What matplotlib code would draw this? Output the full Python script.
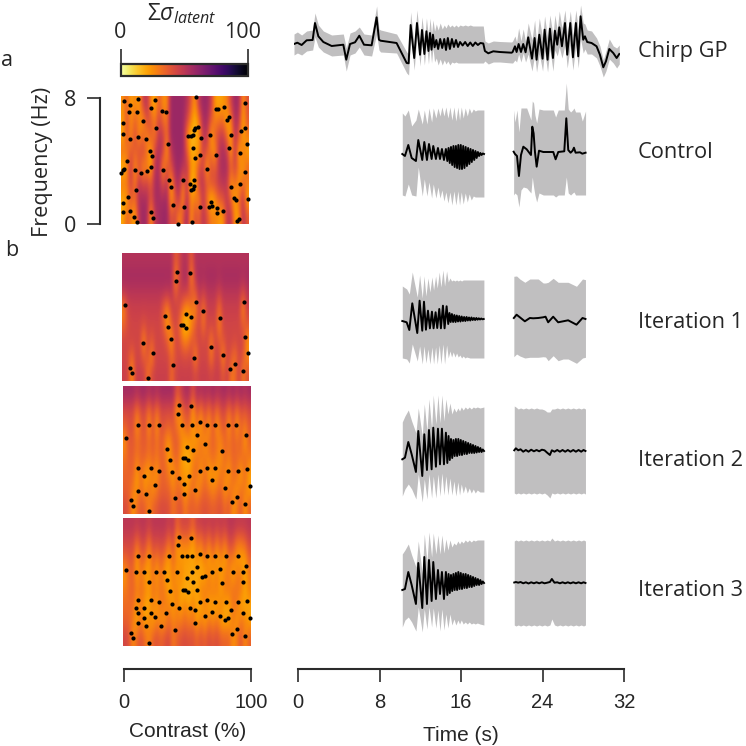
import numpy as np
import matplotlib
matplotlib.use('Agg')
import matplotlib.pyplot as plt
from matplotlib.cm import ScalarMappable
from matplotlib.colors import Normalize

SIZE = 746.0
BAND = '#c0bfc0'
DARK = '#2b2b2b'
TEXT = '#262626'

chirp_gp_t = [0, .33, .75, 1.24, 1.83, 2.06, 2.39, 2.88, 3.7, 4.84, 5.13, 5.5, 5.99, 6.41, 6.87, 7.62, 8.11, 8.34, 8.5, 10.07,
              11.06, 11.25, 11.45, 11.8, 12.07, 12.37, 12.56, 12.8, 13.0, 13.2, 13.35, 13.5, 13.64, 13.8,
              13.97, 14.15, 14.35, 14.55, 14.75, 14.92, 15.1, 15.3, 15.5, 15.7, 15.9, 16.1, 16.3, 16.55, 16.8, 17.05, 17.3, 17.55, 17.8, 18.05, 18.3, 18.58,
              18.74, 19.07, 19.56, 20.2, 21.36, 21.46,
              21.69, 21.85, 22.05, 22.28, 22.5, 22.73, 22.99, 23.36, 23.62, 23.81, 24.08, 24.4, 24.6, 24.89, 25.12, 25.42, 25.61, 25.84, 26.04, 26.3,
              26.6, 26.82, 27.12, 27.38, 27.67, 27.9, 28.13, 28.39, 28.56, 28.78, 29.21, 29.7, 30.03, 30.36, 30.62, 30.95, 31.34, 31.67, 31.93]
chirp_gp_mean = [0, 1.3, -1, 3.7, 4, 21, 7.7, 2, -2, -.7, -15.7, 0, 1.7, 8.3, -.7, -1.3, 26.7, 4.3, 3.3, 1,
                 -19, -19.3, 19, -14, 21, -10.7, 14, -10, 12.7, -7, 11, -5.7, 9.3, -3.3,
                 4, -5, 5, -4, 5, -6, 6, -5, 5, -3, 4, -3, 2, -1.5, 2, -2, 1.5, -2, 1.5, -1, 1, .5,
                 -7, -9.3, -7.3, -8, -8.7, -8,
                 -2.3, -8, 0, -8, 0, -8.3, 6.7, -14.7, 6, -15.7, 9.3, -14.7, 14.3, -15.7, 15.3, -14, 13.3, -.7, 16.7, -2.3,
                 21, -10.7, 21, -13.3, 21, -12.3, 27.7, 4.3, 7.7, 2, 1, -2.3, -10.7, -23.3, -17.3, -5, -9, -14, -10]
chirp_gp_hi = [10, 12, 9, 13, 14, 31, 19, 13, 9, 10, -4, 11, 13, 17, 10, 9, 38, 15, 14, 10,
               -8, -10, 32, -2, 34, 2, 27, 4, 26, 7, 26, 10, 24, 13,
               20, 14, 21, 15, 19, 16, 20, 17, 19, 17, 19, 17, 19, 18, 19, 18, 19, 18, 18, 18, 18, 18,
               3, 1, 3, 2.5, 2, 3,
               8, 2, 16, 3, 15, 2, 21, 4, 24, 1, 26, 6, 28, 6, 29, 9, 29, 14, 33, 16,
               34, 9, 33, 9, 34, 14, 39, 21, 20, 14, 13, 6, -2, -16, -7, 5, -2, -4, -1]
chirp_gp_lo = [-11, -9, -11, -7, -6, 7, -3, -8, -12, -11, -27, -11, -9, -3, -11, -12, 10, -6, -8, -9,
               -29, -31, 8, -26, 10, -22, 2, -21, 0, -20, -2, -19, -4, -18,
               -14, -21, -15, -21, -16, -20, -17, -21, -18, -19, -18, -19, -19, -19, -19, -19, -19, -19, -19, -19, -19, -19,
               -17, -20, -18, -18, -19, -19,
               -16, -18, -10, -18, -9, -18, -10, -27, -11, -28, -10, -27, -7, -28, -5, -27, -6, -12, -3, -14,
               -1, -24, -1, -26, 0, -24, 5, -9, -5, -10, -10, -14, -22, -33, -27, -15, -19, -24, -20]

# chirp window shared by control, iteration 2 and iteration 3
chirp_t = [10.63, 10.89, 11.22, 11.55, 11.97, 12.2, 12.59, 12.79, 13.05, 13.25, 13.51, 13.67, 13.93, 14.13, 14.33, 14.52, 14.72, 14.91,
           15.11, 15.31, 15.5, 15.7, 15.89, 16.09, 16.25, 16.42, 16.61, 16.81, 17.01, 17.2, 17.4, 17.6, 17.79, 17.99, 18.25, 18.64]
chirp_mean_t = [10.63, 10.89, 11.22, 11.55, 11.97, 12.2, 12.59, 12.79, 13.05, 13.25, 13.51, 13.67, 13.93, 14.13, 14.33, 14.52, 14.72, 14.91,
                15.05, 15.17, 15.29, 15.41, 15.53, 15.65, 15.77, 15.89, 16.01, 16.13, 16.25, 16.37, 16.49, 16.61, 16.73, 16.85, 16.97,
                17.09, 17.21, 17.33, 17.45, 17.57, 17.69, 17.81, 17.93, 18.05, 18.17, 18.29, 18.41, 18.53, 18.65]
control_mean = [0, -2, 9, -4, -7, 14, -6, 12, -6, 10, -5, 8, -5, 6, -5, 5, -6, 5,
                -7, 6, -9, 7, -11, 8, -13, 8, -14, 9, -15, 9, -15, 8, -14, 7, -12, 6, -10, 5, -8, 4, -6, 3, -4, 2, -2, 1, -1, .5, 0]
control_hi = [41, 38, 44, 28, 34, 45, 30, 44, 30, 46, 32, 46, 36, 46, 38, 47, 38, 47, 36, 47, 34, 47, 33, 47, 34, 47, 36, 46, 38, 46, 41, 45, 43, 44, 44, 44]
control_lo = [-41, -42, -30, -41, -42, -13, -42, -25, -42, -28, -44, -30, -44, -33, -44, -36, -47, -38, -49, -38, -51, -37, -51, -37, -51, -38, -50, -39, -48, -40, -46, -42, -43, -43, -43, -43]

control_pulse_t = [21.56, 21.69, 21.89, 22.08, 22.28, 22.51, 22.84, 23.26, 23.39, 23.52, 23.65, 23.82, 24.05, 24.47, 25.45, 25.68, 25.94, 26.53, 26.73, 26.92, 27.15, 27.35, 27.48, 27.64, 28.07, 28.3, 28.62]
control_pulse_mean = [2.3, 0, -2, -22, -1, 7.3, 4.7, -1, 27.3, 20.7, 2.3, -12.7, 3.3, 2, 2, -5.3, 2, 2.7, 35.7, 4, 1.3, 3.3, 6.3, 1.3, 1.7, .3, 1.3]
control_pulse_hi = [44, 32, 44, 22, 46, 46, 46, 34, 53, 51, 39, 31, 45, 44, 44, 37, 44, 44, 71, 45, 42, 44, 46, 42, 42, 33, 43]
control_pulse_lo = [-41, -39, -41, -53, -36, -33, -34, -39, -23, -33, -41, -48, -39, -41, -41, -43, -41, -41, -23, -39, -41, -39, -38, -41, -41, -41, -41]

iter1_t = [10.63, 11.06, 11.32, 11.61, 12.1, 12.33, 12.59, 12.76, 12.95, 13.15, 13.34, 13.54, 13.7, 13.9, 14.06, 14.26, 14.42, 14.62,
           14.78, 14.98, 15.14, 15.31, 15.47, 15.63, 15.8, 15.96, 16.12, 16.29, 16.45, 16.61, 16.78, 16.94, 17.27, 17.6, 18.09, 18.64]
iter1_mean_t = [10.63, 11.06, 11.32, 11.61, 12.1, 12.33, 12.59, 12.76, 12.95, 13.15, 13.34, 13.54, 13.7, 13.9, 14.06, 14.26, 14.42, 14.62, 14.78, 14.98, 15.14,
                15.26, 15.38, 15.5, 15.62, 15.74, 15.86, 15.98, 16.1, 16.22, 16.34, 16.46, 16.58, 16.7, 16.82, 16.94,
                17.06, 17.18, 17.3, 17.42, 17.54, 17.66, 17.78, 17.9, 18.02, 18.14, 18.26, 18.38, 18.5, 18.62]
iter1_mean = [-2, -3.3, -11, 15.7, -14, 18.3, -11.7, 17.3, -10.7, 8.3, -9.3, 7.3, -9.3, 6.7, -9, 10, -9.3, 13.3, -9.3, 12.7, -5,
              6, -3, 5, -3, 4, -3, 3.5, -2.5, 3, -2.5, 2.5, -2, 2, -2, 2, -1.5, 1.5, -1.5, 1.5, -1, 1, -1, 1, -.7, .7, -.5, .5, -.3, 0]
iter1_hi = [33, 30, 25, 47, 22, 44, 21, 43, 23, 41, 27, 42, 29, 43, 31, 47, 32, 49, 33, 48, 37, 41, 38, 39, 38, 39, 38, 39, 38, 39, 39, 39, 39, 39, 39, 39]
iter1_lo = [-39, -40, -44, -25, -42, -27, -45, -27, -44, -30, -45, -28, -45, -28, -45, -26, -45, -25, -45, -26, -39, -32, -38, -33, -38, -34, -38, -36, -39, -37, -39, -38, -39, -39, -39, -39]

iter1_pulse_t = [21.58, 21.85, 22.17, 22.66, 23.15, 23.48, 23.97, 24.46, 24.69, 24.95, 25.44, 25.93, 26.42, 26.91, 27.73, 28.32, 28.61]
iter1_pulse_mean = [1, 4.3, 1.7, -2.3, 1, .7, 1, 1.7, 2.3, -3.3, 2.3, -3.3, -2.3, -1.3, -5.7, 1, 0]
iter1_pulse_hi = [42.7, 43, 40, 36.7, 40, 40, 40, 36, 36, 36.7, 40.7, 36.7, 36.7, 36.7, 32.7, 40, 39.3]
iter1_pulse_lo = [-37.7, -35, -37, -39, -38.3, -38.3, -38.3, -37.7, -38, -41.7, -36.7, -41.7, -40, -40, -44.3, -39, -38.3]

iter2_mean = [-8.3, -6.7, 9, -3.3, -21, 20, -25, 16.7, -19, 21, -18.3, 23.3, -15.7, 22.3, -13.3, 22.3, -13.3, 18.3,
              -12, 15, -9, 12, -7, 11, -5, 12, -5, 12, -4, 11, -4, 10, -3, 9, -3, 8, -2, 7, -2, 6, -2, 5, -1.5, 4, -1, 3, -1, 1.5, 0]
iter2_hi = [29, 35, 41, 30, 18, 43, 15, 47, 20, 52, 22, 56, 27, 56, 28, 56, 30, 52, 37, 48, 37, 43, 39, 43, 40, 44, 41, 44, 42, 44, 42, 44, 43, 44, 43, 44]
iter2_lo = [-45, -38, -33, -38, -48, -23, -51, -28, -48, -23, -47, -25, -47, -23, -45, -22, -44, -25, -44, -27, -44, -30, -45, -31, -44, -33, -42, -35, -42, -37, -42, -38, -42, -39, -41, -41]

iter3_mean = [-7, -6, 11, -2, -21, 20, -25, 26, -21, 23, -18, 21, -16, 13, -11, 11, -16, 11,
              -12, 9, -10, 8, -8, 9, -7, 10, -7, 11, -6, 10, -6, 9, -5, 9, -5, 8, -4, 7, -4, 6, -3, 5, -2, 4, -2, 3, -1, 1.5, 0]
iter3_hi = [29, 33, 39, 28, 16, 42, 9, 49, 21, 51, 26, 50, 29, 48, 29, 48, 30, 44, 33, 43, 36, 40, 38, 42, 39, 42, 40, 43, 41, 43, 41, 43, 42, 43, 43, 43]
iter3_lo = [-44, -37, -34, -39, -48, -24, -49, -26, -46, -24, -44, -25, -45, -27, -48, -26, -47, -31, -45, -31, -42, -36, -42, -37, -41, -37, -41, -39, -41, -39, -41, -40, -41, -40, -41, -42]

# pulse window shared by iteration 2 and iteration 3
pulse_t = [21.62, 21.78, 22.01, 22.24, 22.5, 22.76, 23.02, 23.28, 23.55, 23.81, 24.07, 24.33, 24.59, 24.85, 25.12, 25.31, 25.57, 25.84, 26.1, 26.36, 26.62, 26.88, 27.14, 27.41, 27.67, 27.93, 28.19, 28.42, 28.61]
iter2_pulse_mean = [.7, 2.7, .7, 1.7, -.7, 1, -.7, 1.3, -.3, 1, -.3, 1.3, .7, -1.7, -4, .7, -.7, 1, -.7, 1, -.7, 1, -.7, 1, -.7, 1, -.7, 1, 0]
iter2_pulse_hi = [45, 44, 42, 43, 42, 43, 42, 43, 42, 43, 42, 42, 41, 39, 39, 42, 42, 43, 42, 43, 42, 43, 42, 43, 42, 43, 42, 43, 42]
iter2_pulse_lo = [-42, -43, -42, -43, -42, -43, -42, -43, -42, -43, -42, -43, -42, -44, -47, -42, -43, -42, -43, -42, -43, -42, -43, -42, -43, -42, -43, -42, -43]
iter3_pulse_mean = [.5, 1, .3, 1, -.3, .7, -.5, .7, -.3, .7, -.3, .7, -.3, .3, 1, 4, .3, .7, -.3, .7, -.3, .7, -.3, .7, -.3, .7, -.3, .7, 0]
iter3_pulse_hi = [42, 43, 42, 43, 42, 43, 42, 43, 42, 43, 42, 43, 42, 43, 42, 45, 42, 43, 42, 43, 42, 43, 42, 43, 42, 43, 42, 43, 42]
iter3_pulse_lo = [-42, -43, -42, -43, -42, -43, -42, -43, -42, -43, -42, -43, -42, -43, -42, -36, -42, -43, -42, -43, -42, -43, -42, -43, -42, -43, -42, -43, -42]

# ---- sampled stimuli: contrast (%) and frequency (Hz)
control_c = [2.6, 6.8, 13.6, 26.4, 6.5, 12.3, 23.8, 31.8, 35.5, 1.6, 17.2, 1.6, 6.8, 13.6, 19.6, 27.7, 22.4, 24.5, 36.8, 4.4, 23.2, 20.1, 11.2, 15.7, 1.6, 2.6, 0, 32.6, 37.8, 38.9,
             12, 5.7, 1.8, 1.8, 7.3, 10.4, 12.3, 23.5, 25, 40.7, 49.3, 48.5, 44.9, 55.3, 53.8, 57.4, 54.8, 55.9, 57.2, 58.5, 57.9, 60, 56.9, 56.1, 54.8, 52.5, 62.4, 55.9, 57.9, 61.6,
             66.8, 69.4, 74.4, 61.6, 68.9, 70.7, 71, 74.9, 75.2, 79.9, 74.6, 75.7, 80.6, 82.7, 84, 85.6, 84.6, 85.9, 92.7, 92.9, 96.6, 96.6, 96.6, 94, 98.7, 99.4, 88.2, 90, 90.3, 92.1]
control_f = [7.68, 7.45, 7.79, 7.75, 7.03, 7.03, 7.26, 7.09, 7.03, 6.34, 6.42, 5.62, 5.33, 5.45, 5.33, 6.02, 4.59, 4.27, 4.99, 3.94, 3.56, 3.3, 3.35, 3.18, 3.37, 3.41, 3.16, 3.37, 2.78, 2.34,
             2.1, 1.68, 1.33, .78, .82, .42, .13, .74, .38, 1.16, 1.09, 2.78, 0, .13, 2.53, 2.74, 2.15, 2.21, 2.4, 7.94, 6, 6.04, 5.85, 5.58, 5.52, 5.52, 5.37, 4.74, 4.13, 4.32,
             3.41, 5.56, 4.32, 1.09, 1.09, 1.35, 1.14, 1.01, .67, .82, 7.2, 7.2, 7.3, 6.48, 6.71, 5.56, 4.72, 2.29, 4.46, 2.53, 3.28, 7.58, 6, 5.79, 4.99, 1.58, 1.64, 1.47, .21, .29]
iter1_c = [43.6, 42.8, 53.5, 2.6, 57.9, 96.3, 63.9, 34.2, 50.1, 54.3, 77.5, 46.7, 48.3, 36.5, 50.6, 38.6, 16.2, 97.1, 69.9, 24.8, 99.4, 79.3, 56.6, 40.5, 89, 6.5, 85.1, 95.3, 8.1, 20.1]
iter1_f = [6.79, 6.25, 6.73, 4.74, 4.93, 4.93, 4.37, 4.08, 4.2, 4.01, 3.93, 3.47, 3.47, 3.39, 3.32, 2.61, 2.36, 2.76, 2.11, 1.78, 1.73, 1.61, 1.44, .98, 1.05, .82, .73, .61, .48, .17]
iter2_c = [43.6, 42.8, 53.5, 12, 20.1, 27.9, 45.9, 54, 60, 66, 72, 82, 88, 2.6, 57.9, 96.3, 63.9, 34.2, 49.9, 54.3, 77.5, 46.7, 48.3, 36.5, 50.6, 12, 21.9, 27.9, 38.6, 60,
           66, 72, 82, 90, 97.1, 16.2, 51.9, 44.1, 48, 69.9, 24.8, 99.4, 79.3, 56.6, 12, 18, 48, 40.5, 89, 6.5, 85.1, 95.3, 8.1, 20.1]
iter2_f = [6.8, 6.26, 6.74, 5.57, 5.57, 5.57, 5.57, 5.57, 5.72, 5.57, 5.57, 5.57, 5.57, 4.74, 4.93, 4.95, 4.37, 4.08, 4.2, 4.01, 3.93, 3.47, 3.47, 3.39, 3.35, 2.87, 2.87, 2.7, 2.62, 2.7,
           2.87, 2.87, 2.7, 2.7, 2.79, 2.37, 2.37, 2.23, 1.89, 2.12, 1.79, 1.75, 1.62, 1.48, 1.41, 1.27, 1.27, 1.02, 1.08, .85, .77, .64, .52, .21]
iter3_c = [43.6, 42.8, 53.5, 12, 20.1, 36, 45.9, 50.1, 54, 60, 66, 72, 80.1, 90, 96.3, 57.9, 2.6, 10.2, 16.2, 26.1, 32.1, 42, 54, 61.9, 63.9, 69.9, 76, 86.1, 94, 49.9,
           34.2, 54.3, 94, 20.1, 77.5, 46.7, 48.3, 36.5, 50.6, 57.9, 12, 21.9, 27.9, 38.6, 60, 66, 72, 80.1, 90, 97.1, 10.2, 16.2, 44.1, 52.2, 56.1, 84, 12, 21.9, 33.9, 69.9,
           94, 63.9, 76, 16.2, 24.8, 81.9, 79.3, 99.4, 12, 56.6, 18, 30, 40.5, 89, 6.5, 85.1, 95.3, 8.1, 20.1]
iter3_f = [6.83, 6.29, 6.77, 5.6, 5.6, 5.6, 5.6, 5.6, 5.6, 5.75, 5.6, 5.6, 5.6, 5.6, 4.97, 4.95, 4.77, 4.64, 4.64, 4.64, 4.64, 4.64, 4.64, 4.31, 4.39, 4.64, 4.79, 4.64, 4.64, 4.22,
           4.1, 4.03, 3.99, 3.99, 3.95, 3.49, 3.49, 3.41, 3.36, 3.51, 2.86, 2.86, 2.72, 2.63, 2.72, 2.86, 2.72, 2.72, 2.72, 2.8, 2.38, 2.38, 2.38, 2.38, 2.24, 2.24, 2.07, 2.07, 2.07, 2.13,
           2.07, 1.9, 1.9, 1.76, 1.8, 1.76, 1.63, 1.76, 1.42, 1.46, 1.27, 1.27, 1.02, 1.09, .84, .77, .63, .52, .21]

# ---- sigma maps: one list per contrast column, frequency rows from 8 Hz down to 0 Hz
control_sigma = [
    [25, 22, 20, 32, 15, 30, 18, 20], [35, 40, 38, 28, 25, 30, 22, 35], [20, 25, 25, 38, 50, 45, 38, 28], [28, 35, 42, 35, 22, 28, 32, 18],
    [20, 28, 25, 40, 38, 50, 55, 50], [45, 22, 35, 42, 25, 42, 55, 58], [52, 42, 25, 32, 28, 45, 55, 55], [25, 38, 38, 18, 18, 38, 38, 20],
    [18, 28, 30, 45, 52, 55, 55, 50], [38, 45, 50, 55, 55, 55, 55, 55], [25, 32, 48, 45, 22, 40, 55, 58], [25, 30, 30, 20, 40, 52, 58, 58],
    [58, 58, 58, 50, 38, 18, 22, 38], [58, 58, 58, 58, 55, 48, 35, 45], [58, 58, 58, 58, 58, 55, 50, 25], [58, 58, 58, 58, 50, 28, 22, 38],
    [52, 45, 28, 38, 50, 48, 55, 58], [38, 28, 15, 18, 25, 15, 25, 22], [22, 15, 18, 20, 22, 18, 30, 42], [50, 28, 22, 22, 40, 45, 25, 35],
    [58, 55, 48, 45, 45, 50, 50, 50], [58, 55, 50, 38, 20, 38, 30, 42], [48, 38, 20, 30, 42, 38, 15, 28], [22, 28, 35, 22, 35, 42, 22, 28],
    [20, 30, 45, 48, 50, 48, 35, 22], [22, 32, 48, 55, 55, 50, 38, 22], [28, 18, 32, 48, 55, 48, 50, 48], [45, 28, 18, 20, 35, 20, 35, 50],
    [58, 55, 52, 50, 45, 32, 18, 22], [55, 48, 38, 18, 30, 20, 35, 22], [22, 18, 20, 32, 20, 35, 48, 52], [40, 38, 28, 20, 35, 28, 20, 38]]
iter1_sigma = [
    [52, 56, 48, 26, 34, 44, 44, 46], [52, 56, 50, 44, 42, 44, 42, 44], [52, 56, 50, 46, 44, 44, 32, 22], [52, 56, 50, 46, 44, 44, 44, 46],
    [52, 56, 50, 46, 44, 44, 44, 46], [52, 56, 50, 46, 40, 24, 36, 46], [52, 56, 50, 46, 44, 44, 40, 30], [52, 56, 50, 46, 44, 36, 26, 42],
    [52, 56, 50, 46, 44, 44, 44, 46], [52, 56, 50, 46, 44, 44, 44, 46], [52, 56, 50, 34, 36, 44, 44, 46], [52, 56, 48, 26, 20, 36, 44, 46],
    [52, 56, 50, 44, 36, 22, 34, 32], [36, 24, 36, 46, 44, 44, 40, 44], [44, 44, 46, 42, 34, 40, 44, 46], [52, 54, 46, 28, 15, 28, 42, 46],
    [50, 54, 44, 22, 16, 28, 42, 46], [36, 24, 40, 30, 24, 38, 44, 46], [52, 50, 36, 24, 38, 40, 24, 42], [52, 56, 50, 46, 44, 44, 44, 46],
    [52, 54, 44, 28, 30, 42, 44, 46], [52, 56, 50, 46, 44, 44, 44, 46], [52, 56, 50, 46, 42, 28, 28, 44], [52, 56, 50, 46, 44, 44, 44, 46],
    [52, 54, 44, 30, 26, 38, 44, 46], [52, 56, 50, 46, 44, 38, 24, 38], [52, 56, 50, 46, 44, 44, 44, 46], [52, 56, 50, 46, 44, 44, 38, 30],
    [52, 56, 50, 46, 44, 42, 30, 32], [52, 56, 50, 46, 44, 44, 44, 46], [52, 54, 40, 24, 36, 44, 38, 28], [52, 56, 50, 46, 38, 24, 26, 40]]
iter2_sigma = [
    [56, 43, 35, 24, 31, 35, 36, 42], [56, 43, 40, 38, 36, 35, 35, 38], [56, 43, 40, 38, 36, 35, 29, 22], [52, 31, 22, 33, 29, 21, 22, 33],
    [56, 42, 36, 36, 35, 33, 33, 38], [56, 43, 40, 38, 35, 22, 24, 36], [52, 31, 22, 33, 29, 22, 33, 26], [56, 43, 40, 38, 35, 29, 24, 35],
    [52, 31, 22, 31, 29, 22, 31, 38], [56, 43, 40, 38, 36, 35, 36, 42], [56, 43, 38, 29, 33, 35, 36, 42], [56, 42, 35, 22, 20, 29, 35, 40],
    [56, 43, 38, 35, 31, 21, 28, 31], [38, 21, 31, 38, 35, 31, 33, 36], [46, 31, 22, 29, 24, 24, 33, 40], [54, 40, 33, 21, 18, 24, 20, 29],
    [54, 42, 35, 24, 18, 20, 28, 36], [40, 20, 22, 24, 26, 31, 33, 36], [54, 40, 31, 22, 31, 33, 22, 35], [52, 29, 21, 31, 29, 22, 31, 38],
    [54, 42, 35, 24, 29, 33, 35, 40], [52, 31, 22, 31, 28, 21, 31, 38], [56, 43, 38, 36, 33, 24, 26, 36], [52, 31, 22, 31, 28, 22, 31, 38],
    [54, 42, 35, 26, 24, 31, 35, 40], [56, 43, 38, 35, 33, 29, 22, 33], [52, 31, 22, 31, 28, 22, 31, 38], [56, 43, 38, 36, 35, 33, 29, 24],
    [52, 31, 22, 33, 33, 31, 24, 29], [56, 42, 35, 36, 31, 21, 31, 38], [52, 38, 28, 21, 33, 33, 29, 22], [56, 43, 38, 35, 29, 21, 22, 35]]
iter3_sigma = [
    [50, 44, 35, 22, 29, 33, 36, 44], [50, 44, 38, 33, 33, 33, 35, 40], [50, 44, 38, 35, 35, 33, 29, 24], [48, 33, 21, 21, 29, 20, 20, 35],
    [50, 43, 35, 31, 31, 31, 31, 40], [50, 44, 33, 21, 29, 19, 20, 33], [46, 31, 21, 22, 21, 20, 28, 26], [50, 44, 35, 31, 31, 28, 21, 36],
    [50, 42, 29, 21, 28, 21, 29, 40], [50, 44, 36, 31, 31, 31, 24, 35], [50, 43, 29, 21, 29, 28, 24, 40], [46, 31, 21, 21, 19, 28, 33, 43],
    [50, 43, 33, 29, 26, 21, 28, 29], [35, 20, 26, 21, 28, 28, 29, 36], [43, 29, 21, 28, 20, 21, 29, 40], [44, 29, 22, 21, 18, 28, 33, 42],
    [43, 29, 21, 21, 18, 21, 29, 40], [35, 19, 20, 19, 21, 28, 31, 40], [46, 33, 26, 19, 19, 21, 21, 35], [46, 29, 20, 20, 28, 20, 29, 40],
    [48, 40, 31, 20, 28, 28, 21, 36], [46, 29, 20, 29, 28, 20, 31, 42], [48, 42, 29, 20, 29, 21, 26, 38], [46, 29, 20, 29, 28, 20, 31, 42],
    [48, 40, 28, 20, 22, 28, 21, 36], [46, 29, 20, 28, 29, 20, 20, 35], [50, 43, 31, 29, 29, 20, 21, 35], [50, 42, 29, 20, 31, 31, 29, 24],
    [48, 31, 22, 29, 31, 29, 22, 29], [48, 31, 21, 29, 29, 20, 31, 40], [48, 35, 21, 18, 20, 20, 28, 24], [50, 44, 35, 29, 28, 20, 21, 36]]

row_labels = ['Chirp GP', 'Control', 'Iteration 1', 'Iteration 2', 'Iteration 3']
contrast_ticks = [0, 100]
freq_ticks = [0, 8]
time_ticks = [0, 8, 16, 24, 32]

plt.rcParams['font.family'] = ['Open Sans', 'DejaVu Sans']
plt.rcParams['mathtext.fontset'] = 'custom'
plt.rcParams['mathtext.rm'] = 'Open Sans'
plt.rcParams['mathtext.it'] = 'Open Sans:italic'


def px_axes(x0, y0, x1, y1):
    # rectangle given in image pixels, y measured from the top
    return fig.add_axes([x0 / SIZE, 1 - y1 / SIZE, (x1 - x0) / SIZE, (y1 - y0) / SIZE])


def px_text(x, y, s, **kw):
    kw.setdefault('fontsize', 15.5)
    kw.setdefault('color', TEXT)
    kw.setdefault('ha', 'center')
    kw.setdefault('va', 'center')
    fig.text(x / SIZE, 1 - y / SIZE, s, **kw)


def heat_panel(rect, sigma, c, f):
    ax = px_axes(*rect)
    ax.imshow(np.array(sigma).T, cmap='inferno_r', vmin=0, vmax=100, aspect='auto',
              interpolation='bicubic', extent=(0, 100, 0, 8))
    ax.scatter(c, f, s=9, color='black', linewidths=0, clip_on=False, zorder=3)
    ax.set_xlim(0, 100)
    ax.set_ylim(0, 8)
    ax.axis('off')


def trace_panel(baseline, segments):
    # 1 amplitude unit is one pixel here
    ax = px_axes(294, baseline - 90, 620, baseline + 90)
    for band_t, hi, lo, mean_t, mean in segments:
        ax.fill_between(band_t, lo, hi, color=BAND, linewidth=0, zorder=1)
        ax.plot(mean_t, mean, color='black', linewidth=1.4, zorder=2, solid_joinstyle='round')
    ax.set_xlim(0, 32)
    ax.set_ylim(-90, 90)
    ax.axis('off')


def bottom_axis(x0, x1, xmax, ticks, label, labelpad):
    ax = px_axes(x0, 660, x1, 669)
    ax.patch.set_visible(False)
    for side in ['top', 'left', 'right']:
        ax.spines[side].set_visible(False)
    ax.spines['bottom'].set_linewidth(1.5)
    ax.spines['bottom'].set_color(DARK)
    ax.set_xlim(0, xmax)
    ax.set_yticks([])
    ax.set_xticks(ticks)
    ax.tick_params(axis='x', length=9.4, width=1.2, color=DARK, pad=8, labelsize=14.5, labelcolor=TEXT)
    for tick in ax.get_xticklabels():
        tick.set_fontfamily('Liberation Sans')
    ax.set_xlabel(label, fontsize=15, family='Liberation Sans', color=TEXT, labelpad=labelpad)


fig = plt.figure(figsize=(7.46, 7.46), dpi=100)

# colour scale
cax = px_axes(121, 64, 248, 76)
cb = fig.colorbar(ScalarMappable(Normalize(0, 100), 'inferno_r'), cax=cax, orientation='horizontal')
cb.set_ticks([0, 100])
cb.set_ticklabels(['', ''])
cax.xaxis.set_ticks_position('top')
cax.tick_params(axis='x', length=10.5, width=1.2, color=DARK)
cb.outline.set_linewidth(1.6)
cb.outline.set_edgecolor(DARK)
px_text(120, 32, '0')
px_text(243, 32, '100')
px_text(182, 14, r'$\Sigma\sigma_{latent}$', fontsize=16.5)

# frequency bracket
fax = px_axes(100, 98, 120, 224)
fax.patch.set_visible(False)
for side in ['top', 'right', 'bottom']:
    fax.spines[side].set_visible(False)
fax.spines['left'].set_linewidth(1.5)
fax.spines['left'].set_color(DARK)
fax.set_ylim(0, 8)
fax.set_xticks([])
fax.set_yticks(freq_ticks)
fax.tick_params(axis='y', length=9.4, width=1.2, color=DARK, pad=8, labelsize=15.5, labelcolor=TEXT)
px_text(43, 162, 'Frequency (Hz)', rotation=90, fontsize=15.6)

heat_panel((121, 96, 249, 224), control_sigma, control_c, control_f)
heat_panel((122, 253, 249, 381), iter1_sigma, iter1_c, iter1_f)
heat_panel((123, 386, 251, 514), iter2_sigma, iter2_c, iter2_f)
heat_panel((123, 518, 251, 646), iter3_sigma, iter3_c, iter3_f)

trace_panel(44, [(chirp_gp_t, chirp_gp_hi, chirp_gp_lo, chirp_gp_t, chirp_gp_mean)])
trace_panel(154, [(chirp_t, control_hi, control_lo, chirp_mean_t, control_mean),
                  (control_pulse_t, control_pulse_hi, control_pulse_lo, control_pulse_t, control_pulse_mean)])
trace_panel(319, [(iter1_t, iter1_hi, iter1_lo, iter1_mean_t, iter1_mean),
                  (iter1_pulse_t, iter1_pulse_hi, iter1_pulse_lo, iter1_pulse_t, iter1_pulse_mean)])
trace_panel(451, [(chirp_t, iter2_hi, iter2_lo, chirp_mean_t, iter2_mean),
                  (pulse_t, iter2_pulse_hi, iter2_pulse_lo, pulse_t, iter2_pulse_mean)])
trace_panel(583, [(chirp_t, iter3_hi, iter3_lo, chirp_mean_t, iter3_mean),
                  (pulse_t, iter3_pulse_hi, iter3_pulse_lo, pulse_t, iter3_pulse_mean)])

bottom_axis(124, 251, 100, contrast_ticks, 'Contrast (%)', 7)
bottom_axis(298, 624, 32, time_ticks, 'Time (s)', 10)

for label, y in zip(row_labels, [52, 153, 322, 460, 591]):
    px_text(638, y, label, ha='left', fontsize=15.7)
px_text(7, 60, 'a')
px_text(12, 250, 'b')

fig.savefig('out.png', dpi=100)
